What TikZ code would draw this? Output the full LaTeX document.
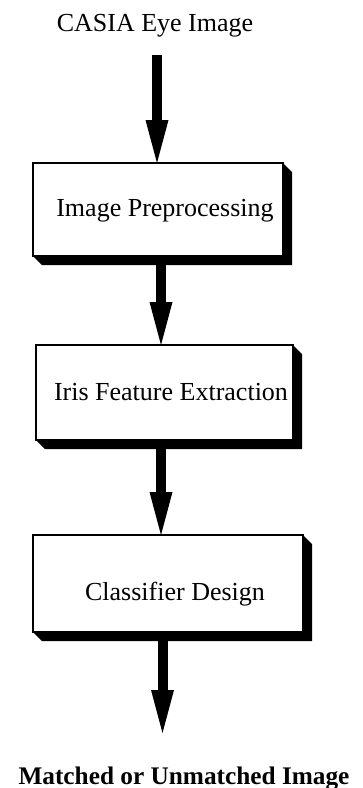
\documentclass[tikz,border=0pt]{standalone}
\usepackage{fontspec}
\setmainfont{Liberation Serif}
\usetikzlibrary{arrows.meta,calc}
\tikzset{
  stepbox/.style={draw, line width=1.6pt, fill=white, minimum width=#1, outer sep=0pt, inner sep=0pt},
  boxtext/.style={anchor=base, inner sep=0pt, font=\fontsize{26}{30}\selectfont},
  flow/.style={line width=10pt, -{Triangle[width=23pt,length=43pt,line width=0pt]}},
  shadowfill/.style={fill=black}
}
\newcommand{\boxshadow}[1]{%
  \fill[shadowfill] (#1.north east) -- ($(#1.north east)+(9,9)$) -- ($(#1.south east)+(9,9)$)
    -- ($(#1.south west)+(9,9)$) -- (#1.south west) -- (#1.south east) -- cycle;}
\begin{document}
\begin{tikzpicture}[x=1pt,y=-1pt]
\useasboundingbox (0,0) rectangle (362,788);
% boxes
\node[stepbox=250pt, minimum height=93pt] (b1) at (158,209.5) {};
\node[stepbox=257pt, minimum height=95pt] (b2) at (164.5,392.5) {};
\node[stepbox=270pt, minimum height=97pt] (b3) at (168,583.5) {};
\boxshadow{b1}
\boxshadow{b2}
\boxshadow{b3}
% texts
\node[boxtext] (title) at (155,31) {CASIA Eye Image};
\node[boxtext] (t1) at (165,216) {Image Preprocessing};
\node[boxtext] (t2) at (171,400) {Iris Feature Extraction};
\node[boxtext] (t3) at (175,600) {Classifier Design};
\node[boxtext, font=\fontsize{25.3}{30}\selectfont\bfseries] (out) at (184,784) {Matched or Unmatched Image};
% arrows
\coordinate (a1s) at (157,55);
\coordinate (a4e) at (162.5,733);
\draw[flow] (a1s) -- (a1s |- b1.north);
\draw[flow] (b1.south -| 161,0) -- (b2.north -| 161,0);
\draw[flow] (b2.south -| 161,0) -- (b3.north -| 161,0);
\draw[flow] (b3.south -| a4e) -- (a4e);
\end{tikzpicture}
\end{document}
